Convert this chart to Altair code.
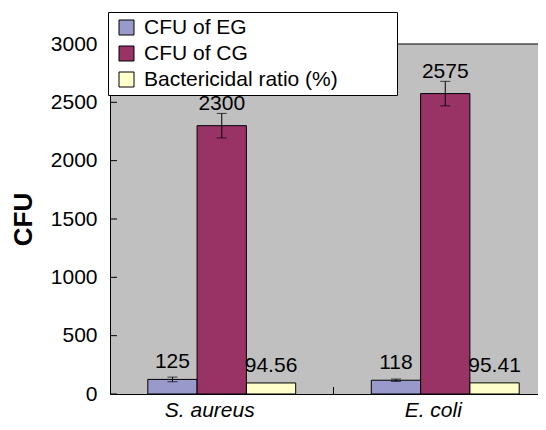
import altair as alt
import pandas as pd

categories = ["S. aureus", "E. coli"]
series = ["CFU of EG", "CFU of CG", "Bactericidal ratio (%)"]
eg_values = [125, 118]
cg_values = [2300, 2575]
ratio_values = [94.56, 95.41]
eg_errors = [20, 10]
cg_errors = [105, 105]
y_ticks = [0, 500, 1000, 1500, 2000, 2500, 3000]
colors = ["#9999CC", "#993366", "#FFFFCC"]

FONT = "Liberation Sans"
W, H = 428, 350

rows = []
for i, c in enumerate(categories):
    vals = [eg_values[i], cg_values[i], ratio_values[i]]
    errs = [eg_errors[i], cg_errors[i], 0]
    for s, v, e in zip(series, vals, errs):
        rows.append({"category": c, "series": s, "value": v, "err": e,
                     "lo": v - e, "hi": v + e, "label": f"{v:g}"})
df = pd.DataFrame(rows)
err_df = df[df["err"] > 0]
tick_df = pd.DataFrame({"t": y_ticks})
bound_df = pd.DataFrame({"category": [categories[1]]})

x_scale = alt.Scale(domain=categories, range=[0, 447], paddingInner=0, paddingOuter=0)
x_axis = alt.Axis(title=None, labelFont=FONT, labelFontStyle="italic", labelFontSize=21,
                  labelOffset=-12, labelPadding=5, ticks=False, domainColor="black",
                  labelColor="black", labelAngle=0)
y_scale = alt.Scale(domain=[0, 3000], nice=False)
y_axis = alt.Axis(title="CFU", values=y_ticks, format="d", ticks=False, grid=False, labelFont=FONT,
                  labelFontSize=21, labelPadding=13, labelColor="black", domainColor="black",
                  titleFont=FONT, titleFontSize=26, titleFontWeight="bold", titleColor="black",
                  titleX=-87, titleY=H / 2, titleBaseline="middle", titleAngle=270)


def X(field="category:N", **kw):
    return alt.X(field, scale=x_scale, axis=x_axis, **kw)


def Y(field):
    return alt.Y(field, scale=y_scale, axis=y_axis)


xoff = alt.XOffset("series:N", sort=series,
                   scale=alt.Scale(domain=series, paddingInner=0, paddingOuter=0.767))

base = alt.Chart(df)

bars = base.mark_bar(stroke="black", strokeWidth=1).encode(
    x=X(), xOffset=xoff, y=Y("value:Q"),
    color=alt.Color("series:N", sort=series,
                    scale=alt.Scale(domain=series, range=colors),
                    legend=alt.Legend(title=" ", titleOrient="right", titlePadding=54,
                                      orient="none", legendX=-2, legendY=-32,
                                      fillColor="white", strokeColor="black", padding=5,
                                      symbolType="square", symbolSize=225,
                                      symbolStrokeColor="black", symbolStrokeWidth=1,
                                      symbolOffset=3, labelFontSize=21, labelFont=FONT,
                                      labelOffset=7, rowPadding=4, labelColor="black",
                                      labelLimit=400, symbolOpacity=1)),
)

err_rule = alt.Chart(err_df).mark_rule(color="black", strokeWidth=1).encode(
    x=X(), xOffset=xoff, y=Y("lo:Q"), y2="hi:Q")
cap_hi = alt.Chart(err_df).mark_tick(color="black", size=10, thickness=1, orient="horizontal").encode(
    x=X(), xOffset=xoff, y=Y("hi:Q"))
cap_lo = alt.Chart(err_df).mark_tick(color="black", size=10, thickness=1, orient="horizontal").encode(
    x=X(), xOffset=xoff, y=Y("lo:Q"))

text_cg = base.transform_filter(alt.datum.series == series[1]).mark_text(
    font=FONT, fontSize=21, color="black", baseline="alphabetic", dy=-3).encode(
    x=X(), xOffset=xoff, y=Y("hi:Q"), text="label:N")
text_other = base.transform_filter(alt.datum.series != series[1]).mark_text(
    font=FONT, fontSize=21, color="black", baseline="alphabetic", dy=-11).encode(
    x=X(), xOffset=xoff, y=Y("value:Q"), text="label:N")

y_ticks_layer = alt.Chart(tick_df).mark_rule(color="black", strokeWidth=1).encode(
    y=Y("t:Q"), x=alt.value(0), x2=alt.value(7))

top_border = alt.Chart(tick_df).transform_filter(alt.datum.t == y_ticks[-1]).mark_rule(
    color="black", strokeWidth=1).encode(y=Y("t:Q"), x=alt.value(0), x2=alt.value(W))

bound_tick = alt.Chart(bound_df).mark_rule(color="black", strokeWidth=1).encode(
    x=X("category:N", bandPosition=0), y=alt.value(H), y2=alt.value(H - 7))

chart = alt.layer(bars, err_rule, cap_hi, cap_lo, text_cg, text_other,
                  y_ticks_layer, top_border, bound_tick).properties(
    width=W, height=H, autosize="none",
    padding={"left": 102, "top": 36, "right": 0, "bottom": 28},
).configure(font=FONT).configure_view(fill="#C0C0C0", stroke=None)

chart.save("out.html", embed_options={"renderer": "svg", "actions": False})
